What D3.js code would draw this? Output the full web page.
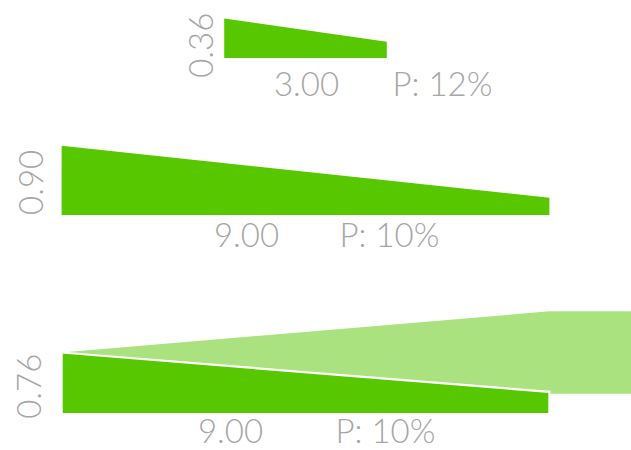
<!DOCTYPE html>
<html>
<head>
<meta charset="utf-8">
<script src="https://cdn.jsdelivr.net/npm/d3@7"></script>
<style>
  html, body { margin: 0; padding: 0; background: #ffffff; }
  svg { display: block; }
  text { font-family: Lato, "Open Sans", sans-serif; font-weight: 300; fill: #a6a6a6; }
</style>
</head>
<body>
<svg id="chart" width="631" height="450"></svg>
<script>
// ---- data ----
const heightValues = [0.36, 0.90, 0.76];      // left-edge value (rotated label)
const widthValues  = [3.00, 9.00, 9.00];      // length value (bottom label)
const pValues      = [12, 10, 10];            // "P: n%"
const taperRatios  = [0.41, 0.25, 0.36];      // right-end height / left-end height
const outflowValues = [null, null, 1.14];     // light wedge leaving the third shape

// ---- layout (positions only) ----
const W = 631, H = 450;
const centerX = 305.5;
const rowBottoms = [58, 215, 414];
const valueLabelGap = [11, 19, 21];
const valueLabelShift = [7, 2, 3];
const widthLabelOffset = [1, -59, -75];
const pLabelOffset = [87, 34, 30];
const bottomLabelDrop = [38, 32, 29];

const dark = "#57c800";
const light = "#a9e27f";

const svg = d3.select("#chart");

const lenScale = d3.scaleLinear().domain([0, 1]).range([0, 54.2]);
const hScale = d3.scaleLinear().domain([0, 1]).range([19.6, 74.7]);

const rows = heightValues.map((v, i) => {
  const w = lenScale(widthValues[i]);
  const x0 = centerX - w / 2;
  const x1 = centerX + w / 2;
  const hL = hScale(v);
  const hR = hL * taperRatios[i];
  const yB = rowBottoms[i];
  return { i, v, x0, x1, hL, hR, yB, w };
});

const line = d3.line();

// light outflow wedges (behind)
rows.forEach(r => {
  const o = outflowValues[r.i];
  if (o == null) return;
  const apexY = r.yB - r.hL;
  const half = hScale(o) / 2;
  const xEnd = r.x1 + lenScale(3);
  svg.append("path")
    .attr("d", line([
      [r.x0, apexY],
      [r.x1, apexY - half],
      [xEnd, apexY - half],
      [xEnd, apexY + half],
      [r.x1, apexY + half]
    ]) + "Z")
    .attr("fill", light);
});

// dark tapered shapes
svg.selectAll("path.shape")
  .data(rows)
  .enter().append("path")
  .attr("class", "shape")
  .attr("d", r => line([
    [r.x0, r.yB - r.hL],
    [r.x1, r.yB - r.hR],
    [r.x1, r.yB],
    [r.x0, r.yB]
  ]) + "Z")
  .attr("fill", dark)
  .attr("stroke", r => outflowValues[r.i] == null ? "none" : "#ffffff")
  .attr("stroke-width", 2.2)
  .attr("stroke-linejoin", "miter");

const fmt = d3.format(".2f");

// rotated value labels
svg.selectAll("text.vlabel")
  .data(rows)
  .enter().append("text")
  .attr("class", "vlabel")
  .attr("transform", r => `translate(${r.x0 - valueLabelGap[r.i]},${r.yB - r.hL / 2 + valueLabelShift[r.i]}) rotate(-90)`)
  .attr("text-anchor", "middle")
  .style("font-size", "33px")
  .text(r => fmt(r.v));

// width labels
svg.selectAll("text.wlabel")
  .data(rows)
  .enter().append("text")
  .attr("class", "wlabel")
  .attr("x", r => centerX + widthLabelOffset[r.i])
  .attr("y", r => r.yB + bottomLabelDrop[r.i])
  .attr("text-anchor", "middle")
  .style("font-size", "33px")
  .text(r => fmt(widthValues[r.i]));

// P labels
svg.selectAll("text.plabel")
  .data(rows)
  .enter().append("text")
  .attr("class", "plabel")
  .attr("x", r => centerX + pLabelOffset[r.i])
  .attr("y", r => r.yB + bottomLabelDrop[r.i])
  .attr("text-anchor", "start")
  .style("font-size", "33px")
  .text(r => `P: ${pValues[r.i]}%`);
</script>
</body>
</html>
